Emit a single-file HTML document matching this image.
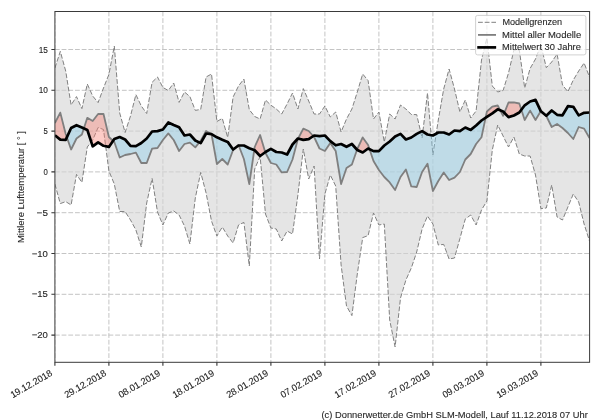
<!DOCTYPE html>
<html><head><meta charset="utf-8"><style>
html,body{margin:0;padding:0;background:#fff;width:600px;height:420px;overflow:hidden;font-family:"Liberation Sans",sans-serif;}
svg{display:block;will-change:transform;}
</style></head><body>
<svg width="600" height="420" viewBox="0 0 600 420">
<defs><clipPath id="ax"><rect x="54.9" y="11.5" width="534.7" height="350.8"/></clipPath></defs>
<rect width="600" height="420" fill="#fff"/>
<g clip-path="url(#ax)">
<path d="M54.9,49.5H589.6M54.9,90.3H589.6M54.9,131.1H589.6M54.9,171.9H589.6M54.9,212.7H589.6M54.9,253.5H589.6M54.9,294.3H589.6M54.9,335.1H589.6M54.9,11.5V362.3M108.9,11.5V362.3M162.9,11.5V362.3M216.9,11.5V362.3M270.9,11.5V362.3M324.9,11.5V362.3M378.9,11.5V362.3M432.9,11.5V362.3M486.9,11.5V362.3M540.9,11.5V362.3" stroke="#c4c4c4" stroke-width="1" stroke-dasharray="4.8 1.9" fill="none"/>
<polygon points="54.9,68 60.3,51.4 65.7,71 71.1,105 76.5,96.6 81.9,108.6 87.3,84 92.7,96 98.1,102.6 103.5,88 108.9,74.5 114.3,46 119.7,113 125.1,132.5 130.5,116 135.9,94.6 141.3,106 146.7,113.5 152.1,82.3 157.5,77 162.9,87.5 168.3,90.5 173.7,83 179.1,102.4 184.5,92 189.9,96.6 195.3,110.4 200.7,109.4 206.1,77 211.5,74 216.9,121.5 222.3,118.4 227.7,137.5 233.1,97 238.5,86 243.9,79 249.3,109.7 254.7,116.5 260.1,119 265.5,100 270.9,105.2 276.3,109 281.7,114 287.1,104 292.5,93 297.9,109 303.3,88.6 308.7,101 314.1,114 319.5,114 324.9,106 330.3,117 335.7,112 341.1,132 346.5,119 351.9,109 357.3,92 362.7,74 368.1,80.6 373.5,119 378.9,112 384.3,142 389.7,114 395.1,119 400.5,105 405.9,109 411.3,114.5 416.7,114.6 422.1,138 427.5,93 432.9,155 438.3,120 443.7,89 449.1,69 454.5,89 459.9,112 465.3,100 470.7,118 476.1,111 481.5,60 486.9,38 492.3,86 497.7,92 503.1,90.5 508.5,73 513.9,50 519.3,50 524.7,88 530.1,68.5 535.5,59 540.9,45 546.3,67.7 551.7,62 557.1,54 562.5,85 567.9,91.7 573.3,80 578.7,71 584.1,63 589.5,77 589.5,241 584.1,224 578.7,202 573.3,194 567.9,207 562.5,220 557.1,217 551.7,185 546.3,208 540.9,208.6 535.5,175 530.1,156 524.7,156 519.3,154 513.9,137 508.5,147 503.1,136 497.7,125 492.3,150 486.9,201 481.5,210 476.1,225 470.7,215 465.3,219 459.9,238.5 454.5,258 449.1,259 443.7,244.4 438.3,245 432.9,224 427.5,216 422.1,229 416.7,252 411.3,268 405.9,280 400.5,298 395.1,347 389.7,320 384.3,224 378.9,225 373.5,213 368.1,235.6 362.7,237.6 357.3,274 351.9,315.6 346.5,306 341.1,265 335.7,186 330.3,175 324.9,194 319.5,259 314.1,166 308.7,179 303.3,149 297.9,195 292.5,234 287.1,231 281.7,241 276.3,229 270.9,228 265.5,214 260.1,156.5 254.7,169 249.3,266 243.9,222.4 238.5,225 233.1,243 227.7,236 222.3,227 216.9,236 211.5,221 206.1,193 200.7,172.4 195.3,198 189.9,244 184.5,226 179.1,215 173.7,211 168.3,213 162.9,225 157.5,212 152.1,178.4 146.7,203 141.3,247 135.9,230 130.5,220 125.1,211.6 119.7,211.5 114.3,184 108.9,171 103.5,129.5 98.1,127.5 92.7,140 87.3,147 81.9,182.4 76.5,174.4 71.1,205 65.7,201.6 60.3,203.6 54.9,184" fill="#d3d3d3" fill-opacity="0.6"/>
<polyline points="54.9,68 60.3,51.4 65.7,71 71.1,105 76.5,96.6 81.9,108.6 87.3,84 92.7,96 98.1,102.6 103.5,88 108.9,74.5 114.3,46 119.7,113 125.1,132.5 130.5,116 135.9,94.6 141.3,106 146.7,113.5 152.1,82.3 157.5,77 162.9,87.5 168.3,90.5 173.7,83 179.1,102.4 184.5,92 189.9,96.6 195.3,110.4 200.7,109.4 206.1,77 211.5,74 216.9,121.5 222.3,118.4 227.7,137.5 233.1,97 238.5,86 243.9,79 249.3,109.7 254.7,116.5 260.1,119 265.5,100 270.9,105.2 276.3,109 281.7,114 287.1,104 292.5,93 297.9,109 303.3,88.6 308.7,101 314.1,114 319.5,114 324.9,106 330.3,117 335.7,112 341.1,132 346.5,119 351.9,109 357.3,92 362.7,74 368.1,80.6 373.5,119 378.9,112 384.3,142 389.7,114 395.1,119 400.5,105 405.9,109 411.3,114.5 416.7,114.6 422.1,138 427.5,93 432.9,155 438.3,120 443.7,89 449.1,69 454.5,89 459.9,112 465.3,100 470.7,118 476.1,111 481.5,60 486.9,38 492.3,86 497.7,92 503.1,90.5 508.5,73 513.9,50 519.3,50 524.7,88 530.1,68.5 535.5,59 540.9,45 546.3,67.7 551.7,62 557.1,54 562.5,85 567.9,91.7 573.3,80 578.7,71 584.1,63 589.5,77" fill="none" stroke="#808080" stroke-width="1" stroke-dasharray="4.8 1.9" stroke-linejoin="round"/>
<polyline points="54.9,184 60.3,203.6 65.7,201.6 71.1,205 76.5,174.4 81.9,182.4 87.3,147 92.7,140 98.1,127.5 103.5,129.5 108.9,171 114.3,184 119.7,211.5 125.1,211.6 130.5,220 135.9,230 141.3,247 146.7,203 152.1,178.4 157.5,212 162.9,225 168.3,213 173.7,211 179.1,215 184.5,226 189.9,244 195.3,198 200.7,172.4 206.1,193 211.5,221 216.9,236 222.3,227 227.7,236 233.1,243 238.5,225 243.9,222.4 249.3,266 254.7,169 260.1,156.5 265.5,214 270.9,228 276.3,229 281.7,241 287.1,231 292.5,234 297.9,195 303.3,149 308.7,179 314.1,166 319.5,259 324.9,194 330.3,175 335.7,186 341.1,265 346.5,306 351.9,315.6 357.3,274 362.7,237.6 368.1,235.6 373.5,213 378.9,225 384.3,224 389.7,320 395.1,347 400.5,298 405.9,280 411.3,268 416.7,252 422.1,229 427.5,216 432.9,224 438.3,245 443.7,244.4 449.1,259 454.5,258 459.9,238.5 465.3,219 470.7,215 476.1,225 481.5,210 486.9,201 492.3,150 497.7,125 503.1,136 508.5,147 513.9,137 519.3,154 524.7,156 530.1,156 535.5,175 540.9,208.6 546.3,208 551.7,185 557.1,217 562.5,220 567.9,207 573.3,194 578.7,202 584.1,224 589.5,241" fill="none" stroke="#808080" stroke-width="1" stroke-dasharray="4.8 1.9" stroke-linejoin="round"/>
<polygon points="54.9,123 60.3,112.6 65.7,134 66.86,137.34 66.86,137.34 65.7,139.9 60.3,139.6 54.9,135.2" fill="#fa8072" fill-opacity="0.4"/>
<polygon points="83.9,128.32 87.3,117.8 92.7,121 98.1,114 103.5,114 108.9,137 113.08,140.87 113.08,140.87 108.9,146.9 103.5,145.8 98.1,142.3 92.7,146.3 87.3,129.9 83.9,128.32" fill="#fa8072" fill-opacity="0.4"/>
<polygon points="199.26,142.41 200.7,140.6 206.1,131 211.5,134 211.54,134.22 211.54,134.22 211.5,134.2 206.1,133.5 200.7,143.1 199.26,142.41" fill="#fa8072" fill-opacity="0.4"/>
<polygon points="235.8,147.5 238.5,145 238.69,145.5 238.69,145.5 238.5,145.5 235.8,147.5" fill="#fa8072" fill-opacity="0.4"/>
<polygon points="254.24,150.12 254.7,147 260.1,135 265.25,152.18 265.25,152.18 260.1,156 254.7,150.3 254.24,150.12" fill="#fa8072" fill-opacity="0.4"/>
<polygon points="298.13,138.56 303.3,128.6 308.7,131 313.26,136.06 313.26,136.06 308.7,139.1 303.3,139.9 298.13,138.56" fill="#fa8072" fill-opacity="0.4"/>
<polygon points="357.05,149.72 357.3,149 362.7,137.4 368.1,145 369.51,149.18 369.51,149.18 368.1,148.5 362.7,152.5 357.3,150 357.05,149.72" fill="#fa8072" fill-opacity="0.4"/>
<polygon points="485.6,117.69 486.9,111.5 492.3,106.6 497.7,105.5 500.23,110.33 500.23,110.33 497.7,109.3 492.3,113.3 486.9,116.8 485.6,117.69" fill="#fa8072" fill-opacity="0.4"/>
<polygon points="504.33,112.77 508.5,102.5 513.9,102.3 519.3,103.5 521.35,109.77 521.35,109.77 519.3,112.5 513.9,115.5 508.5,117.1 504.33,112.77" fill="#fa8072" fill-opacity="0.4"/>
<polygon points="540.82,111.13 540.9,111 543.6,113.5 543.6,113.5 540.9,111.3 540.82,111.13" fill="#fa8072" fill-opacity="0.4"/>
<polygon points="66.86,137.34 71.1,149.5 76.5,138.5 81.9,134.5 83.9,128.32 83.9,128.32 81.9,127.4 76.5,125.2 71.1,128 66.86,137.34" fill="#87ceeb" fill-opacity="0.4"/>
<polygon points="113.08,140.87 114.3,142 119.7,157.5 125.1,155 130.5,154 135.9,152.6 141.3,163 146.7,163 152.1,148.6 157.5,148 162.9,140 168.3,133.4 173.7,140 179.1,151 184.5,144 189.9,142.6 195.3,147.4 199.26,142.41 199.26,142.41 195.3,140.5 189.9,134.5 184.5,135.5 179.1,127.3 173.7,125 168.3,122.5 162.9,129.5 157.5,131.1 152.1,131.5 146.7,138.5 141.3,143 135.9,146.2 130.5,145.8 125.1,139.5 119.7,137 114.3,139.1 113.08,140.87" fill="#87ceeb" fill-opacity="0.4"/>
<polygon points="211.54,134.22 216.9,164 222.3,159 227.7,164.5 233.1,150 235.8,147.5 235.8,147.5 233.1,149.5 227.7,141.9 222.3,139.7 216.9,137.3 211.54,134.22" fill="#87ceeb" fill-opacity="0.4"/>
<polygon points="238.69,145.5 243.9,159 249.3,184 254.24,150.12 254.24,150.12 249.3,148.2 243.9,145.5 238.69,145.5" fill="#87ceeb" fill-opacity="0.4"/>
<polygon points="265.25,152.18 265.5,153 270.9,163 276.3,164.5 281.7,172.4 287.1,172 292.5,159.5 297.9,139 298.13,138.56 298.13,138.56 297.9,138.5 292.5,144.5 287.1,154.5 281.7,152.5 276.3,152 270.9,148.8 265.5,152 265.25,152.18" fill="#87ceeb" fill-opacity="0.4"/>
<polygon points="313.26,136.06 314.1,137 319.5,148.5 324.9,151 330.3,143 335.7,151 341.1,184 346.5,168 351.9,164.5 357.05,149.72 357.05,149.72 351.9,144 346.5,146.8 341.1,144 335.7,145.3 330.3,141.1 324.9,135.5 319.5,136.1 314.1,135.5 313.26,136.06" fill="#87ceeb" fill-opacity="0.4"/>
<polygon points="369.51,149.18 373.5,161 378.9,170 384.3,177 389.7,182.4 395.1,190 400.5,177 405.9,169.5 411.3,186.4 416.7,187 422.1,172 427.5,163.8 432.9,191 438.3,181 443.7,172.4 449.1,180 454.5,177.6 459.9,172 465.3,159.5 470.7,154 476.1,144 481.5,137.3 485.6,117.69 485.6,117.69 481.5,120.5 476.1,125.5 470.7,129.9 465.3,127.5 459.9,131.1 454.5,130.5 449.1,134.5 443.7,132.5 438.3,132.5 432.9,135.5 427.5,134.5 422.1,131.1 416.7,133.9 411.3,137.5 405.9,139.5 400.5,133.9 395.1,136.5 389.7,141.5 384.3,145.5 378.9,151.1 373.5,151.1 369.51,149.18" fill="#87ceeb" fill-opacity="0.4"/>
<polygon points="500.23,110.33 503.1,115.8 504.33,112.77 504.33,112.77 503.1,111.5 500.23,110.33" fill="#87ceeb" fill-opacity="0.4"/>
<polygon points="521.35,109.77 524.7,120 530.1,110.6 535.5,120 540.82,111.13 540.82,111.13 535.5,99.9 530.1,101.5 524.7,105.3 521.35,109.77" fill="#87ceeb" fill-opacity="0.4"/>
<polygon points="543.6,113.5 546.3,116 551.7,127 557.1,124 562.5,128 567.9,133 573.3,139 578.7,127 584.1,128.6 589.5,138 589.5,112.5 584.1,112.8 578.7,115.4 573.3,106.8 567.9,106.2 562.5,115.3 557.1,114.8 551.7,110.5 546.3,115.7 543.6,113.5" fill="#87ceeb" fill-opacity="0.4"/>
<polyline points="54.9,123 60.3,112.6 65.7,134 71.1,149.5 76.5,138.5 81.9,134.5 87.3,117.8 92.7,121 98.1,114 103.5,114 108.9,137 114.3,142 119.7,157.5 125.1,155 130.5,154 135.9,152.6 141.3,163 146.7,163 152.1,148.6 157.5,148 162.9,140 168.3,133.4 173.7,140 179.1,151 184.5,144 189.9,142.6 195.3,147.4 200.7,140.6 206.1,131 211.5,134 216.9,164 222.3,159 227.7,164.5 233.1,150 238.5,145 243.9,159 249.3,184 254.7,147 260.1,135 265.5,153 270.9,163 276.3,164.5 281.7,172.4 287.1,172 292.5,159.5 297.9,139 303.3,128.6 308.7,131 314.1,137 319.5,148.5 324.9,151 330.3,143 335.7,151 341.1,184 346.5,168 351.9,164.5 357.3,149 362.7,137.4 368.1,145 373.5,161 378.9,170 384.3,177 389.7,182.4 395.1,190 400.5,177 405.9,169.5 411.3,186.4 416.7,187 422.1,172 427.5,163.8 432.9,191 438.3,181 443.7,172.4 449.1,180 454.5,177.6 459.9,172 465.3,159.5 470.7,154 476.1,144 481.5,137.3 486.9,111.5 492.3,106.6 497.7,105.5 503.1,115.8 508.5,102.5 513.9,102.3 519.3,103.5 524.7,120 530.1,110.6 535.5,120 540.9,111 546.3,116 551.7,127 557.1,124 562.5,128 567.9,133 573.3,139 578.7,127 584.1,128.6 589.5,138" fill="none" stroke="#7f7f7f" stroke-width="1.8" stroke-linejoin="round"/>
<polyline points="54.9,135.2 60.3,139.6 65.7,139.9 71.1,128 76.5,125.2 81.9,127.4 87.3,129.9 92.7,146.3 98.1,142.3 103.5,145.8 108.9,146.9 114.3,139.1 119.7,137 125.1,139.5 130.5,145.8 135.9,146.2 141.3,143 146.7,138.5 152.1,131.5 157.5,131.1 162.9,129.5 168.3,122.5 173.7,125 179.1,127.3 184.5,135.5 189.9,134.5 195.3,140.5 200.7,143.1 206.1,133.5 211.5,134.2 216.9,137.3 222.3,139.7 227.7,141.9 233.1,149.5 238.5,145.5 243.9,145.5 249.3,148.2 254.7,150.3 260.1,156 265.5,152 270.9,148.8 276.3,152 281.7,152.5 287.1,154.5 292.5,144.5 297.9,138.5 303.3,139.9 308.7,139.1 314.1,135.5 319.5,136.1 324.9,135.5 330.3,141.1 335.7,145.3 341.1,144 346.5,146.8 351.9,144 357.3,150 362.7,152.5 368.1,148.5 373.5,151.1 378.9,151.1 384.3,145.5 389.7,141.5 395.1,136.5 400.5,133.9 405.9,139.5 411.3,137.5 416.7,133.9 422.1,131.1 427.5,134.5 432.9,135.5 438.3,132.5 443.7,132.5 449.1,134.5 454.5,130.5 459.9,131.1 465.3,127.5 470.7,129.9 476.1,125.5 481.5,120.5 486.9,116.8 492.3,113.3 497.7,109.3 503.1,111.5 508.5,117.1 513.9,115.5 519.3,112.5 524.7,105.3 530.1,101.5 535.5,99.9 540.9,111.3 546.3,115.7 551.7,110.5 557.1,114.8 562.5,115.3 567.9,106.2 573.3,106.8 578.7,115.4 584.1,112.8 589.5,112.5" fill="none" stroke="#000" stroke-width="2.7" stroke-linejoin="round"/>
</g>
<rect x="54.9" y="11.5" width="534.7" height="350.8" fill="none" stroke="#3a3a3a" stroke-width="1"/>
<path d="M51.4,49.5H54.9M51.4,90.3H54.9M51.4,131.1H54.9M51.4,171.9H54.9M51.4,212.7H54.9M51.4,253.5H54.9M51.4,294.3H54.9M51.4,335.1H54.9M54.9,362.3V365.8M108.9,362.3V365.8M162.9,362.3V365.8M216.9,362.3V365.8M270.9,362.3V365.8M324.9,362.3V365.8M378.9,362.3V365.8M432.9,362.3V365.8M486.9,362.3V365.8M540.9,362.3V365.8" stroke="#333" stroke-width="1.1" fill="none"/>
<text x="47.9" y="52.5" text-anchor="end" font-size="9.1" font-family="Liberation Sans, sans-serif" fill="#262626" stroke="#262626" stroke-width="0.12" textLength="9.2" lengthAdjust="spacingAndGlyphs">15</text>
<text x="47.9" y="93.3" text-anchor="end" font-size="9.1" font-family="Liberation Sans, sans-serif" fill="#262626" stroke="#262626" stroke-width="0.12" textLength="9.2" lengthAdjust="spacingAndGlyphs">10</text>
<text x="47.9" y="134.1" text-anchor="end" font-size="9.1" font-family="Liberation Sans, sans-serif" fill="#262626" stroke="#262626" stroke-width="0.12" textLength="4.3" lengthAdjust="spacingAndGlyphs">5</text>
<text x="47.9" y="174.9" text-anchor="end" font-size="9.1" font-family="Liberation Sans, sans-serif" fill="#262626" stroke="#262626" stroke-width="0.12" textLength="4.3" lengthAdjust="spacingAndGlyphs">0</text>
<text x="47.9" y="215.7" text-anchor="end" font-size="9.1" font-family="Liberation Sans, sans-serif" fill="#262626" stroke="#262626" stroke-width="0.12" textLength="11.3" lengthAdjust="spacingAndGlyphs">−5</text>
<text x="47.9" y="256.5" text-anchor="end" font-size="9.1" font-family="Liberation Sans, sans-serif" fill="#262626" stroke="#262626" stroke-width="0.12" textLength="16.2" lengthAdjust="spacingAndGlyphs">−10</text>
<text x="47.9" y="297.3" text-anchor="end" font-size="9.1" font-family="Liberation Sans, sans-serif" fill="#262626" stroke="#262626" stroke-width="0.12" textLength="16.2" lengthAdjust="spacingAndGlyphs">−15</text>
<text x="47.9" y="338.1" text-anchor="end" font-size="9.1" font-family="Liberation Sans, sans-serif" fill="#262626" stroke="#262626" stroke-width="0.12" textLength="16.2" lengthAdjust="spacingAndGlyphs">−20</text>
<text transform="translate(52.9,375) rotate(-30)" text-anchor="end" font-size="9.4" font-family="Liberation Sans, sans-serif" fill="#262626" stroke="#262626" stroke-width="0.12" textLength="46.5" lengthAdjust="spacingAndGlyphs">19.12.2018</text>
<text transform="translate(106.9,375) rotate(-30)" text-anchor="end" font-size="9.4" font-family="Liberation Sans, sans-serif" fill="#262626" stroke="#262626" stroke-width="0.12" textLength="46.5" lengthAdjust="spacingAndGlyphs">29.12.2018</text>
<text transform="translate(160.9,375) rotate(-30)" text-anchor="end" font-size="9.4" font-family="Liberation Sans, sans-serif" fill="#262626" stroke="#262626" stroke-width="0.12" textLength="46.5" lengthAdjust="spacingAndGlyphs">08.01.2019</text>
<text transform="translate(214.9,375) rotate(-30)" text-anchor="end" font-size="9.4" font-family="Liberation Sans, sans-serif" fill="#262626" stroke="#262626" stroke-width="0.12" textLength="46.5" lengthAdjust="spacingAndGlyphs">18.01.2019</text>
<text transform="translate(268.9,375) rotate(-30)" text-anchor="end" font-size="9.4" font-family="Liberation Sans, sans-serif" fill="#262626" stroke="#262626" stroke-width="0.12" textLength="46.5" lengthAdjust="spacingAndGlyphs">28.01.2019</text>
<text transform="translate(322.9,375) rotate(-30)" text-anchor="end" font-size="9.4" font-family="Liberation Sans, sans-serif" fill="#262626" stroke="#262626" stroke-width="0.12" textLength="46.5" lengthAdjust="spacingAndGlyphs">07.02.2019</text>
<text transform="translate(376.9,375) rotate(-30)" text-anchor="end" font-size="9.4" font-family="Liberation Sans, sans-serif" fill="#262626" stroke="#262626" stroke-width="0.12" textLength="46.5" lengthAdjust="spacingAndGlyphs">17.02.2019</text>
<text transform="translate(430.9,375) rotate(-30)" text-anchor="end" font-size="9.4" font-family="Liberation Sans, sans-serif" fill="#262626" stroke="#262626" stroke-width="0.12" textLength="46.5" lengthAdjust="spacingAndGlyphs">27.02.2019</text>
<text transform="translate(484.9,375) rotate(-30)" text-anchor="end" font-size="9.4" font-family="Liberation Sans, sans-serif" fill="#262626" stroke="#262626" stroke-width="0.12" textLength="46.5" lengthAdjust="spacingAndGlyphs">09.03.2019</text>
<text transform="translate(538.9,375) rotate(-30)" text-anchor="end" font-size="9.4" font-family="Liberation Sans, sans-serif" fill="#262626" stroke="#262626" stroke-width="0.12" textLength="46.5" lengthAdjust="spacingAndGlyphs">19.03.2019</text>
<text transform="translate(24.4,187) rotate(-90)" text-anchor="middle" font-size="9.1" font-family="Liberation Sans, sans-serif" fill="#262626" stroke="#262626" stroke-width="0.1" textLength="112" lengthAdjust="spacingAndGlyphs">Mittlere Lufttemperatur [ ° ]</text>
<rect x="475.6" y="15.4" width="110.3" height="39.5" rx="2" ry="2" fill="#fff" fill-opacity="0.7" stroke="#cccccc" stroke-width="0.9"/>
<path d="M478,22.3H496" stroke="#808080" stroke-width="1" stroke-dasharray="4.8 1.9" stroke-linejoin="round"/>
<path d="M478,34.9H496" stroke="#7f7f7f" stroke-width="1.8"/>
<path d="M478.6,47.4H494.8" stroke="#000" stroke-width="2.7" stroke-linecap="square"/>
<text x="502.4" y="24.9" font-size="9.1" font-family="Liberation Sans, sans-serif" fill="#262626" stroke="#262626" stroke-width="0.1" textLength="59.8" lengthAdjust="spacingAndGlyphs">Modellgrenzen</text>
<text x="502.1" y="37.7" font-size="9.1" font-family="Liberation Sans, sans-serif" fill="#262626" stroke="#262626" stroke-width="0.1" textLength="79.1" lengthAdjust="spacingAndGlyphs">Mittel aller Modelle</text>
<text x="502.1" y="50.1" font-size="9.1" font-family="Liberation Sans, sans-serif" fill="#262626" stroke="#262626" stroke-width="0.1" textLength="78.8" lengthAdjust="spacingAndGlyphs">Mittelwert 30 Jahre</text>
<text x="321.5" y="418.2" font-size="9.1" font-family="Liberation Sans, sans-serif" fill="#262626" stroke="#262626" stroke-width="0.1" textLength="266.3" lengthAdjust="spacingAndGlyphs">(c) Donnerwetter.de GmbH SLM-Modell, Lauf 11.12.2018 07 Uhr</text>
</svg>
</body></html>
